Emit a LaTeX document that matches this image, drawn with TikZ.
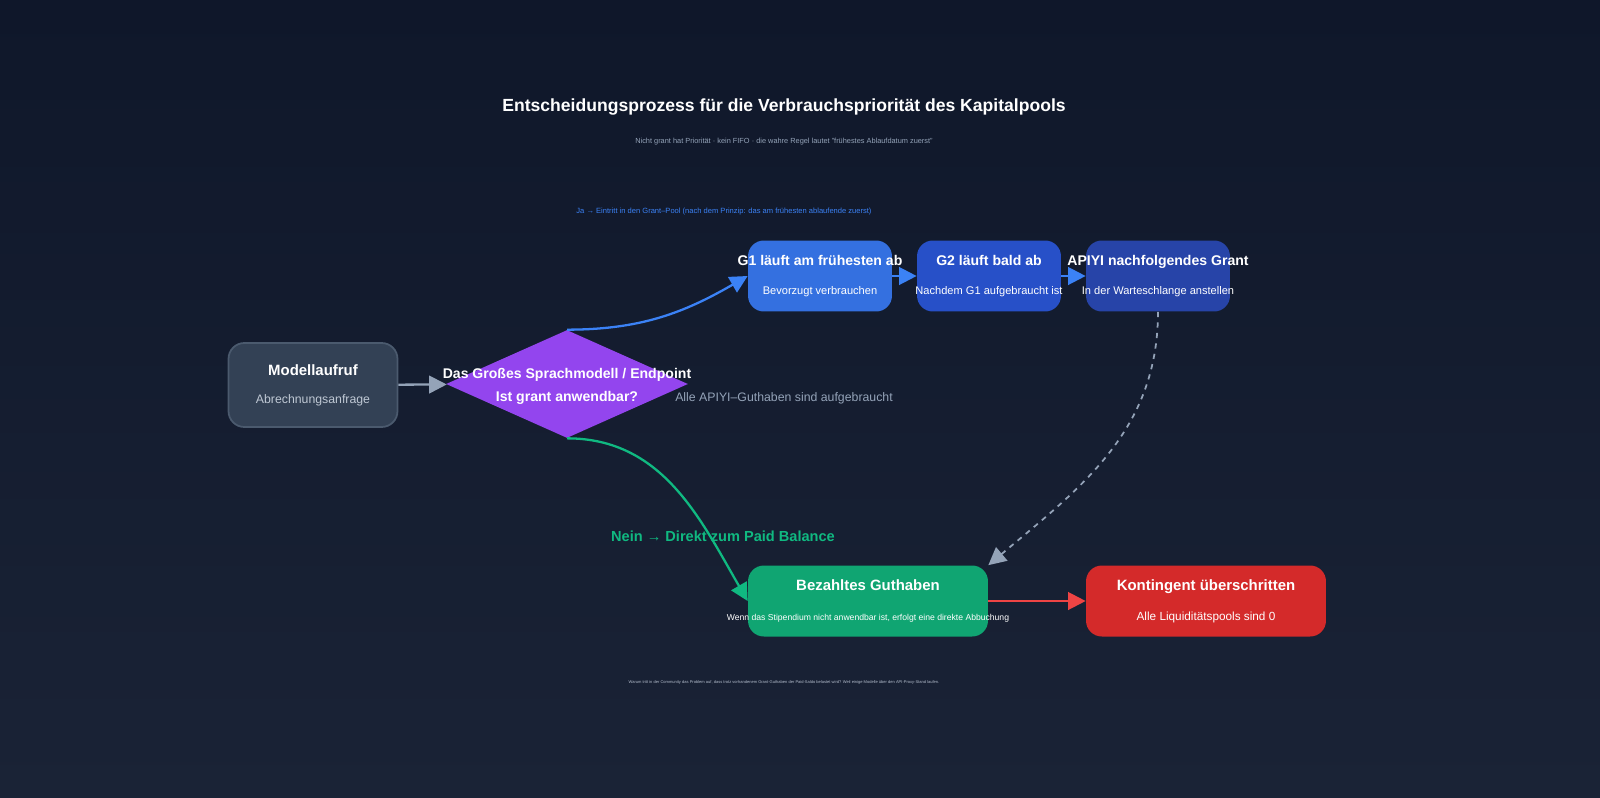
\documentclass[tikz,border=0pt]{standalone}
\usepackage{fontspec}
\setmainfont{Liberation Sans}
\usetikzlibrary{shapes.geometric,arrows.meta}
\definecolor{bgA}{HTML}{0F172A}
\definecolor{bgB}{HTML}{1A2336}
\definecolor{slateF}{HTML}{334155}
\definecolor{slateD}{HTML}{4B5A6E}
\definecolor{lila}{HTML}{9345EE}
\definecolor{blauA}{HTML}{3470E0}
\definecolor{blauB}{HTML}{2750C8}
\definecolor{blauC}{HTML}{2744A8}
\definecolor{gruen}{HTML}{10A572}
\definecolor{rot}{HTML}{D42A2A}
\definecolor{pfeilB}{HTML}{3B82F6}
\definecolor{pfeilG}{HTML}{10B981}
\definecolor{pfeilR}{HTML}{EF4444}
\definecolor{grau}{HTML}{94A3B8}
\newcommand\zeile[1]{\makebox[0pt][c]{#1}}
\tikzset{
  box/.style={rounded corners=9pt, minimum width=2.88cm, minimum height=1.42cm, inner xsep=0pt, align=center, text=white},
  wide/.style={box, minimum width=4.8cm},
  kopf/.style={font=\bfseries\fontsize{8}{10}\selectfont},
  pf/.style={-{Triangle[length=10pt,width=10pt]}, line width=1.3pt},
}
\begin{document}
\begin{tikzpicture}[x=0.02cm,y=-0.02cm]
\shade[top color=bgA, bottom color=bgB] (0,0) rectangle (1600,798);
\useasboundingbox (0,0) rectangle (1600,798);
% titles
\node[text=white, font=\bfseries\fontsize{10}{12}\selectfont] (titel) at (784,107) {Entscheidungsprozess für die Verbrauchspriorität des Kapitalpools};
\node[text=grau, font=\fontsize{4.2}{6}\selectfont] (untertitel) at (784,142) {Nicht grant hat Priorität · kein FIFO · die wahre Regel lautet "frühestes Ablaufdatum zuerst"};
% nodes
\node[box, fill=slateF, draw=slateD, line width=1pt, minimum width=3.38cm, minimum height=1.68cm] (aufruf) at (313,385)
  {\zeile{\bfseries\fontsize{8.5}{10}\selectfont Modellaufruf}\\[4pt]\zeile{\fontsize{7}{9}\selectfont\color{grau!60!white}Abrechnungsanfrage}};
\node[diamond, fill=lila, minimum width=4.84cm, minimum height=2.16cm, inner sep=0pt] (frage) at (567,384) {};
\node[text=white, align=center, kopf] (fragetext) at (567,386) {Das Großes Sprachmodell / Endpoint\\[3pt]Ist grant anwendbar?};
\node[box, fill=blauA] (gA) at (820,276) {\zeile{\bfseries\fontsize{8}{10}\selectfont G1 läuft am frühesten ab}\\[5pt]\zeile{\fontsize{6.3}{8}\selectfont Bevorzugt verbrauchen}};
\node[box, fill=blauB] (gB) at (989,276) {\zeile{\bfseries\fontsize{8}{10}\selectfont G2 läuft bald ab}\\[5pt]\zeile{\fontsize{6.3}{8}\selectfont Nachdem G1 aufgebraucht ist}};
\node[box, fill=blauC] (gC) at (1158,276) {\zeile{\bfseries\fontsize{8}{10}\selectfont APIYI nachfolgendes Grant}\\[5pt]\zeile{\fontsize{6.3}{8}\selectfont In der Warteschlange anstellen}};
\node[wide, fill=gruen] (bezahlt) at (868,601) {\zeile{\bfseries\fontsize{8.5}{10}\selectfont Bezahltes Guthaben}\\[5pt]\zeile{\fontsize{4.9}{7}\selectfont Wenn das Stipendium nicht anwendbar ist, erfolgt eine direkte Abbuchung}};
\node[wide, fill=rot] (limit) at (1206,601) {\zeile{\bfseries\fontsize{8.5}{10}\selectfont Kontingent überschritten}\\[5pt]\zeile{\fontsize{6.7}{9}\selectfont Alle Liquiditätspools sind 0}};
% labels
\node[text=pfeilB, font=\fontsize{4.3}{6}\selectfont] (jaText) at (724,212) {Ja → Eintritt in den Grant–Pool (nach dem Prinzip: das am frühesten ablaufende zuerst)};
\node[text=grau, font=\fontsize{7}{9}\selectfont] (leerText) at (784,398) {Alle APIYI–Guthaben sind aufgebraucht};
\node[text=pfeilG, font=\bfseries\fontsize{8.3}{10}\selectfont] (neinText) at (723,536) {Nein → Direkt zum Paid Balance};
\node[text=grau!70, font=\fontsize{2.3}{3}\selectfont] (fussnote) at (784,682) {Warum tritt in der Community das Problem auf, dass trotz vorhandenem Grant-Guthaben der Paid-Saldo belastet wird? Weil einige Modelle über den API-Proxy-Stand laufen.};
% connectors
\draw[pf, grau] (aufruf) -- (frage);
\draw[pf, pfeilB] (frage.north) to[out=0, in=-150] (gA.west);
\draw[pf, pfeilB] (gA) -- (gB);
\draw[pf, pfeilB] (gB) -- (gC);
\draw[pf, grau, dashed, line width=1pt] (gC.south) to[out=-90, in=40] (bezahlt.north east);
\draw[pf, pfeilG] (frage.south) to[out=0, in=120] (bezahlt.west);
\draw[pf, pfeilR] (bezahlt) -- (limit);
\end{tikzpicture}
\end{document}
